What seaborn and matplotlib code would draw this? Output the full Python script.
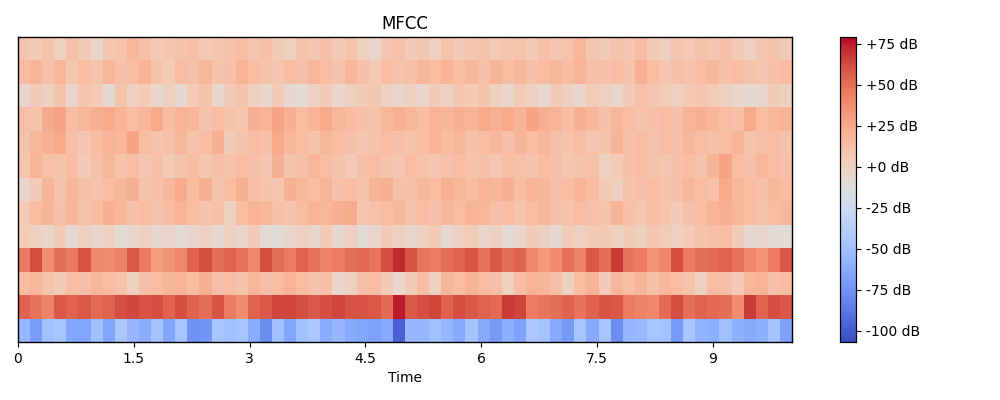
import numpy as np
import pandas as pd
import matplotlib
matplotlib.use("Agg")
import matplotlib.pyplot as plt
import seaborn as sns

# MFCC values (dB), one list per coefficient, 64 time blocks each
mfcc_0 = [-56, -70, -50, -46, -66, -66, -50, -66, -44, -56, -62, -48, -66, -46, -76, -74, -46,
          -50, -46, -62, -78, -50, -66, -50, -44, -62, -56, -64, -66, -68, -64, -98,
          -56, -56, -50, -56, -64, -48, -64, -72, -60, -68, -44, -48, -64, -72, -46, -64,
          -46, -78, -56, -54, -46, -48, -72, -46, -58, -60, -50, -60, -64, -60, -48, -68]
mfcc_1 = [55, 48, 42, 58, 55, 58, 52, 55, 62, 64, 60, 62, 55, 62, 55, 50, 60,
          45, 38, 55, 58, 65, 65, 62, 58, 62, 65, 60, 60, 58, 52, 75,
          58, 62, 65, 55, 62, 58, 55, 52, 68, 65, 45, 48, 50, 55, 48, 55,
          60, 58, 45, 42, 40, 52, 62, 50, 55, 52, 50, 38, 68, 55, 62, 58]
mfcc_2 = [15, 18, 10, 5, 15, 12, 18, 15, 10, 0, 12, 15, 18, 20, 15, 22, 12,
          15, 10, 18, 12, 15, 20, 15, 10, 12, -5, 0, 12, 15, 5, -5,
          5, 15, 0, 18, 15, 20, 15, 12, 0, 15, 20, 18, 12, 0, 15, 20,
          5, 18, 15, 20, 12, 18, 15, 10, 0, 15, 12, 5, 18, 20, 12, 15]
mfcc_3 = [45, 62, 38, 50, 45, 60, 40, 38, 42, 58, 45, 30, 35, 40, 55, 62, 50,
          55, 48, 40, 62, 50, 45, 55, 48, 42, 45, 50, 52, 48, 62, 72,
          60, 48, 45, 50, 55, 60, 48, 58, 50, 55, 40, 32, 38, 50, 42, 58,
          50, 68, 48, 45, 35, 40, 62, 45, 50, 52, 55, 48, 40, 35, 45, 58]
mfcc_4 = [5, 0, -5, 5, -8, 0, -5, 0, -10, -5, 0, -8, -5, -10, -5, 0, -8,
          0, -5, 5, -10, -12, -5, 0, -5, 5, -8, 0, -10, -5, 5, 0,
          -5, 0, 5, -8, 0, 5, -5, 0, -10, -5, 5, 0, -8, 5, 0, 5,
          5, 0, 5, 0, 8, 5, 0, 5, 10, 12, 15, 5, -8, -5, -10, -12]
mfcc_5 = [5, 15, 20, 12, 18, 10, 15, 22, 18, 12, 15, 10, 15, 20, 15, 10, 12,
          0, 15, 20, 18, 12, 10, 15, 20, 18, 22, 25, 8, 12, 15, 18,
          10, 15, 12, 18, 15, 20, 18, 12, 15, 10, 15, 18, 12, 10, 15, 12,
          10, 20, 12, 8, 15, 10, 5, 12, 15, 20, 22, 18, 15, 10, 15, 18]
mfcc_6 = [-5, 5, 20, 10, 18, 12, 10, 15, 18, 22, 10, 12, 18, 25, 15, 22, 10,
          15, 22, 12, 10, 8, 22, 18, 15, 20, 12, 15, 10, 20, 22, 12,
          12, 18, 15, 22, 18, 15, 20, 18, 22, 15, 20, 18, 12, 15, 20, 15,
          5, 0, 10, 12, 15, 10, 12, 18, 15, 12, 25, 18, 15, 12, 18, 15]
mfcc_7 = [8, 20, 12, 10, 15, 5, 12, 18, 10, 15, 8, 12, 5, 10, 15, 8, 12,
          10, 15, 12, 8, 22, 10, 12, 18, 15, 10, 5, 12, 15, 10, 8,
          15, 10, 8, 12, 15, 10, 12, 8, 15, 12, 10, 15, 12, 8, 10, 12,
          0, 5, 12, 15, 10, 8, 12, 15, 10, 20, 28, 15, 12, 18, 15, 12]
mfcc_8 = [10, 18, 22, 25, 12, 8, 15, 20, 18, 28, 15, 10, 12, 18, 10, 15, 22,
          5, 10, 15, 12, 25, 18, 15, 10, 18, 15, 12, 8, 10, 15, 12,
          10, 15, 20, 15, 18, 12, 15, 18, 12, 20, 15, 18, 12, 10, 15, 8,
          10, 20, 12, 15, 10, 15, 12, 18, 15, 12, 15, 20, 10, 12, 15, 10]
mfcc_9 = [12, 10, 25, 28, 15, 18, 22, 25, 20, 15, 18, 25, 15, 20, 18, 10, 15,
          10, 8, 22, 20, 28, 22, 15, 20, 25, 18, 15, 12, 10, 18, 22,
          18, 15, 20, 18, 22, 20, 25, 22, 25, 20, 28, 22, 20, 15, 22, 18,
          12, 18, 15, 10, 12, 15, 12, 20, 22, 18, 15, 12, 25, 15, 18, 20]
mfcc_10 = [-5, 5, 0, 10, -5, 8, 5, -8, 10, 0, 5, -5, 0, -8, 5, 10, -5,
           5, 10, 0, -5, 5, -8, -10, 0, 5, -5, 0, 5, 8, 0, -5,
           0, -5, 5, 0, 8, 5, 10, 0, -5, 5, 0, -8, 5, 0, -5, 5,
           0, -5, 5, 12, 8, 5, 0, 5, 8, 5, 0, -5, -8, -5, 5, 0]
mfcc_11 = [15, 20, 12, 18, 8, 15, 10, 18, 12, 15, 20, 10, 5, 15, 12, 18, 10,
           12, 20, 15, 10, 8, 15, 12, 18, 15, 10, 18, 12, 5, 15, 10,
           12, 18, 15, 20, 15, 18, 12, 20, 15, 18, 12, 15, 18, 15, 20, 12,
           12, 15, 10, 22, 15, 8, 12, 10, 15, 18, 12, 15, 10, 8, 12, 15]
mfcc_12 = [8, 5, 10, 0, 12, 5, -5, 8, 10, 18, 12, 5, 8, 10, 12, 5, 8,
           10, 15, 8, 12, 5, 0, 10, 8, 12, 5, 10, 0, -5, 8, 12,
           5, 8, 0, 10, 5, 8, 10, 5, 8, 10, 5, 12, 8, 10, 18, 8,
           5, 10, 8, 15, 5, 0, 8, 5, 10, 8, 12, 5, 0, 8, 10, 5]

duration = 10.03  # seconds covered by the frames
time_ticks = [0, 1.5, 3, 4.5, 6, 7.5, 9]
cbar_ticks = [-100, -75, -50, -25, 0, 25, 50, 75]

rows = [mfcc_0, mfcc_1, mfcc_2, mfcc_3, mfcc_4, mfcc_5, mfcc_6,
        mfcc_7, mfcc_8, mfcc_9, mfcc_10, mfcc_11, mfcc_12]
df = pd.DataFrame(rows)
n_frames = df.shape[1]

fig = plt.figure(figsize=(10, 4), dpi=100)
ax = fig.add_axes([0.018, 0.145, 0.774, 0.7625])
cax = fig.add_axes([0.840, 0.145, 0.016, 0.7625])

sns.heatmap(
    df,
    cmap="coolwarm",
    vmin=-107,
    vmax=79,
    ax=ax,
    cbar_ax=cax,
    cbar_kws={"format": "%+2.0f dB", "ticks": cbar_ticks},
    xticklabels=False,
    yticklabels=False,
)
ax.invert_yaxis()  # coefficient 0 at the bottom

for spine in ax.spines.values():
    spine.set_visible(True)
    spine.set_color("black")
    spine.set_linewidth(1.0)

ax.set_xticks([t / duration * n_frames for t in time_ticks])
ax.set_xticklabels([f"{t:g}" for t in time_ticks])
ax.tick_params(axis="x", length=3.5, width=0.8, labelsize=10, rotation=0)
ax.set_yticks([])
ax.set_xlabel("Time", fontsize=10)
ax.set_ylabel("")
ax.set_title("MFCC", fontsize=12)

cax.tick_params(labelsize=10, length=3.5, width=0.8)
for spine in cax.spines.values():
    spine.set_visible(True)
    spine.set_color("black")
    spine.set_linewidth(0.8)

fig.savefig("out.png", dpi=100)
